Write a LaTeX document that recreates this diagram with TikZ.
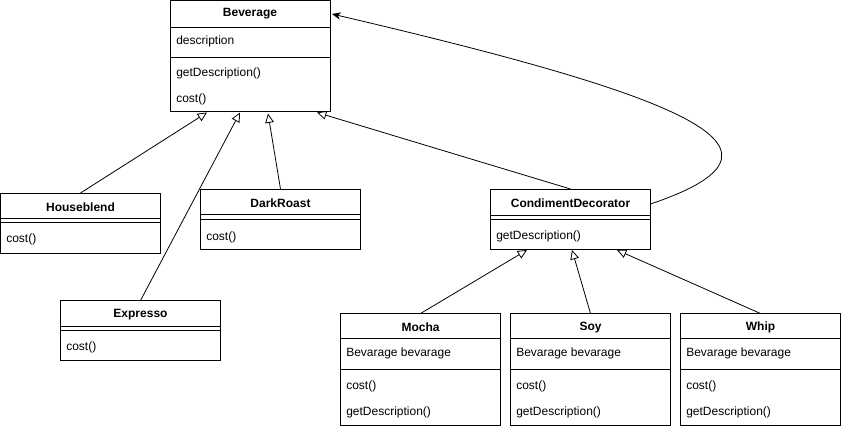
\documentclass[tikz,border=0pt]{standalone}
\usepackage{fontspec}
\setmainfont{Liberation Sans}
\usetikzlibrary{arrows.meta,calc}
\begin{document}
\begin{tikzpicture}[x=0.75pt,y=-0.75pt,
  cls/.style={draw, line width=0.75pt, inner sep=0pt, outer sep=0pt, anchor=north west, minimum width=120pt},
  hdr/.style={font=\fontsize{9}{11}\selectfont\bfseries, inner sep=0pt},
  mem/.style={font=\fontsize{9}{11}\selectfont, inner sep=0pt, anchor=west},
  sep/.style={line width=0.75pt},
  gen/.style={line width=0.6pt, -{Triangle[open,length=7pt,width=6.5pt,line width=0.6pt]}},
  dep/.style={line width=0.6pt, -{Stealth[length=6.5pt,width=5.5pt,inset=2pt]}}]
\useasboundingbox (0,0) rectangle (841,429);

% ---------- Beverage ----------
\node[cls, minimum height=83.25pt] (bev) at (170.5,0.5) {};
\draw[sep] ($(bev.north west)+(0,26.5)$) -- ($(bev.north east)+(0,26.5)$);
\draw[sep] ($(bev.north west)+(0,56.5)$) -- ($(bev.north east)+(0,56.5)$);
\node[hdr] (bevT) at (250,14) {Beverage};
\node[mem] (bevA) at (176,41) {description};
\node[mem] (bevM1) at (176,73) {getDescription()};
\node[mem] (bevM2) at (176,99) {cost()};

% ---------- Houseblend ----------
\node[cls, minimum height=45pt] (hb) at (0.5,193) {};
\draw[sep] ($(hb.north west)+(0,25)$) -- ($(hb.north east)+(0,25)$);
\draw[sep] ($(hb.north west)+(0,29.5)$) -- ($(hb.north east)+(0,29.5)$);
\node[hdr] (hbT) at (80.5,207) {Houseblend};
\node[mem] (hbM) at (6,239) {cost()};

% ---------- DarkRoast ----------
\node[cls, minimum height=45pt] (dr) at (200.5,189) {};
\draw[sep] ($(dr.north west)+(0,25.5)$) -- ($(dr.north east)+(0,25.5)$);
\draw[sep] ($(dr.north west)+(0,30)$) -- ($(dr.north east)+(0,30)$);
\node[hdr] (drT) at (280.5,203.5) {DarkRoast};
\node[mem] (drM) at (206,237) {cost()};

% ---------- Expresso ----------
\node[cls, minimum height=45pt] (ex) at (60.5,300.5) {};
\draw[sep] ($(ex.north west)+(0,25.5)$) -- ($(ex.north east)+(0,25.5)$);
\draw[sep] ($(ex.north west)+(0,30)$) -- ($(ex.north east)+(0,30)$);
\node[hdr] (exT) at (140.5,314.5) {Expresso};
\node[mem] (exM) at (66,347) {cost()};

% ---------- CondimentDecorator ----------
\node[cls, minimum height=45pt] (cd) at (490.5,189) {};
\draw[sep] ($(cd.north west)+(0,26.5)$) -- ($(cd.north east)+(0,26.5)$);
\draw[sep] ($(cd.north west)+(0,30.5)$) -- ($(cd.north east)+(0,30.5)$);
\node[hdr] (cdT) at (570.5,203.5) {CondimentDecorator};
\node[mem] (cdM) at (496,236.5) {getDescription()};

% ---------- Mocha ----------
\node[cls, minimum height=84pt] (mo) at (340.5,313.5) {};
\draw[sep] ($(mo.north west)+(0,25)$) -- ($(mo.north east)+(0,25)$);
\draw[sep] ($(mo.north west)+(0,56)$) -- ($(mo.north east)+(0,56)$);
\node[hdr] (moT) at (420.5,327.5) {Mocha};
\node[mem] (moA) at (346,353) {Bevarage bevarage};
\node[mem] (moM1) at (346,386) {cost()};
\node[mem] (moM2) at (346,412) {getDescription()};

% ---------- Soy ----------
\node[cls, minimum height=84pt] (soy) at (510.5,313.5) {};
\draw[sep] ($(soy.north west)+(0,25)$) -- ($(soy.north east)+(0,25)$);
\draw[sep] ($(soy.north west)+(0,56)$) -- ($(soy.north east)+(0,56)$);
\node[hdr] (soyT) at (590.5,327.5) {Soy};
\node[mem] (soyA) at (516,353) {Bevarage bevarage};
\node[mem] (soyM1) at (516,386) {cost()};
\node[mem] (soyM2) at (516,412) {getDescription()};

% ---------- Whip ----------
\node[cls, minimum height=84pt] (wh) at (680.5,313.5) {};
\draw[sep] ($(wh.north west)+(0,25)$) -- ($(wh.north east)+(0,25)$);
\draw[sep] ($(wh.north west)+(0,56)$) -- ($(wh.north east)+(0,56)$);
\node[hdr] (whT) at (760.5,327.5) {Whip};
\node[mem] (whA) at (686,353) {Bevarage bevarage};
\node[mem] (whM1) at (686,386) {cost()};
\node[mem] (whM2) at (686,412) {getDescription()};

% ---------- connectors ----------
\draw[gen] (hb.north) -- ($(bev.south west)+(36.5,1)$);
\draw[gen] (ex.north) -- ($(bev.south west)+(69.5,1)$);
\draw[gen] (dr.north) -- ($(bev.south west)+(97.5,2)$);
\draw[gen] (cd.north) -- ($(bev.south west)+(146.5,1)$);
\draw[gen] (mo.north) -- ($(cd.south west)+(36.5,1)$);
\draw[gen] (soy.north) -- ($(cd.south west)+(81.5,1)$);
\draw[gen] (wh.north) -- ($(cd.south west)+(126.5,1)$);
\draw[dep] ($(cd.north east)+(0,15)$) .. controls (810,150) and (700,100) .. ($(bev.north east)+(1.5,13.5)$);
\end{tikzpicture}
\end{document}
